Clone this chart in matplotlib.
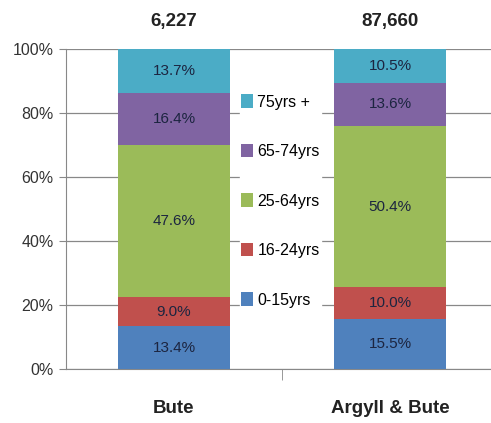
import numpy as np
import matplotlib.pyplot as plt

# Data
areas = ["Bute", "Argyll & Bute"]
totals = ["6,227", "87,660"]
age_groups = ["0-15yrs", "16-24yrs", "25-64yrs", "65-74yrs", "75yrs +"]
age_0_15 = [13.4, 15.5]
age_16_24 = [9.0, 10.0]
age_25_64 = [47.6, 50.4]
age_65_74 = [16.4, 13.6]
age_75_plus = [13.7, 10.5]

series = [age_0_15, age_16_24, age_25_64, age_65_74, age_75_plus]
colors = ["#4F81BD", "#C0504D", "#9BBB59", "#8064A2", "#4BACC6"]

plt.rcParams['font.family'] = ['Liberation Sans Narrow', 'Liberation Sans', 'DejaVu Sans']

fig = plt.figure(figsize=(4.91, 4.23), dpi=100)
ax = fig.add_axes([66 / 491, 1 - 369 / 423, 425 / 491, 320 / 423])

x = np.arange(len(areas))
bottom = np.zeros(len(areas))
for vals, col, lab in zip(series, colors, age_groups):
    ax.bar(x, vals, 0.52, bottom=bottom, color=col, label=lab, zorder=3)
    for xi, v, bt in zip(x, vals, bottom):
        ax.text(xi, bt + v / 2, f"{v:.1f}%", ha='center', va='center',
                fontsize=11, color='#1C2540', zorder=4)
    bottom = bottom + np.array(vals)

# totals above bars
for xi, t in zip(x, totals):
    ax.text(xi, 108.5, t, ha='center', va='center', fontsize=13.5,
            fontweight='bold', color='#222222', clip_on=False)

ax.set_ylim(0, 100)
ax.set_xlim(-0.5, 1.5 - 7 / 216)
ax.set_yticks(range(0, 101, 20))
ax.set_yticklabels([f"{v}%" for v in range(0, 101, 20)], fontsize=11.5, color='#333333')
ax.set_xticks(x)
ax.set_xticklabels(areas, fontsize=13.5, fontweight='bold', color='#222222')
ax.tick_params(axis='x', length=0, pad=22)
ax.tick_params(axis='y', length=5, color='#888888', pad=4)
ax.set_xticks([0.5], minor=True)
ax.tick_params(axis='x', which='minor', length=8, color='#888888')
ax.grid(axis='y', color='#888888', linewidth=0.9, zorder=0)
for s in ['top', 'right']:
    ax.spines[s].set_visible(False)
for s in ['left', 'bottom']:
    ax.spines[s].set_color('#888888')

# legend in the middle, reversed order
h, l = ax.get_legend_handles_labels()
leg = ax.legend(h[::-1], l[::-1], loc='center', bbox_to_anchor=(0.5 + 0.005, 0.525),
                frameon=True, fontsize=11.5, handlelength=0.7, handleheight=0.9,
                handletextpad=0.3, labelspacing=2.15, borderpad=0.1,
                edgecolor='white', facecolor='white', framealpha=1)
leg.set_zorder(5)

fig.savefig("out.png", dpi=100)
